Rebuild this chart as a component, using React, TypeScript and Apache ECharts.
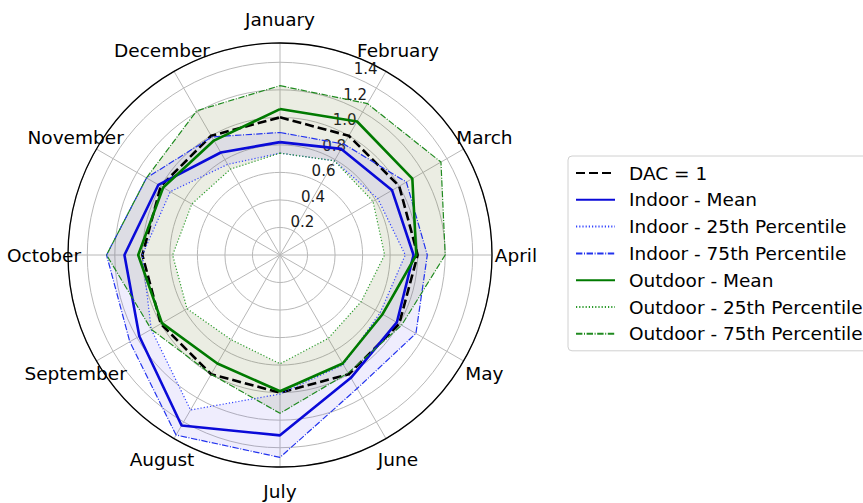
import { useEffect, useRef } from 'react';
import * as echarts from 'echarts';

// Months run clockwise from the top of the polar plot.
const months = [
  'January', 'February', 'March', 'April', 'May', 'June',
  'July', 'August', 'September', 'October', 'November', 'December',
];
const radialTickLabels = ['0.2', '0.4', '0.6', '0.8', '1.0', '1.2', '1.4'];

const dacLevel = [1, 1, 1, 1, 1, 1, 1, 1, 1, 1, 1, 1];
const indoorMean = [0.82, 0.89, 0.94, 0.97, 0.98, 1.03, 1.31, 1.43, 1.18, 1.13, 1.02, 0.86];
const indoorP25 = [0.74, 0.79, 0.82, 0.91, 0.84, 0.92, 1.01, 1.30, 1.08, 1.00, 0.92, 0.76];
const indoorP75 = [0.89, 0.93, 1.06, 1.07, 1.14, 1.12, 1.47, 1.51, 1.26, 1.26, 1.12, 0.99];
const outdoorMean = [1.06, 1.12, 1.11, 0.99, 0.86, 0.91, 0.99, 0.91, 0.99, 1.03, 0.98, 0.96];
const outdoorP25 = [0.74, 0.79, 0.78, 0.76, 0.68, 0.70, 0.79, 0.71, 0.78, 0.78, 0.74, 0.72];
const outdoorP75 = [1.23, 1.27, 1.35, 1.20, 1.02, 0.99, 1.15, 1.00, 1.08, 1.26, 1.12, 1.21];

const FONT = 'DejaVu Sans';
const CENTER = [280, 255];
const RADIUS = 212;
const R_MAX = 1.54;
// Month names sit centred on a ring 24px outside the outer circle.
const MONTH_LABEL_R = (R_MAX * (RADIUS + 24)) / RADIUS;

// [radius, monthIndex] pairs, repeating January at index 12 to close the loop.
const loop = (vals: number[]) =>
  vals.map((v, i) => [v, i]).concat([[vals[0], vals.length]]);

const bandSeries = (name: string, lower: number[], upper: number[], fill: string) => ({
  type: 'custom',
  name,
  coordinateSystem: 'polar',
  polarIndex: 0,
  silent: true,
  z: 1,
  data: [[0, 0]],
  renderItem: (_params: any, api: any) => {
    const outer = loop(upper).map((p) => api.coord(p));
    const inner = loop(lower).map((p) => api.coord(p)).reverse();
    return {
      type: 'polygon',
      shape: { points: outer.concat(inner) },
      style: { fill, stroke: 'none' },
    };
  },
});

const lineSeries = (name: string, vals: number[], color: string, width: number, type: any) => ({
  type: 'line',
  name,
  coordinateSystem: 'polar',
  polarIndex: 0,
  data: loop(vals),
  symbol: 'none',
  showSymbol: false,
  silent: true,
  color,
  lineStyle: { color, width, type },
  z: 3,
});

const DOTTED = [1.2, 2];
const DASH_DOT = [6.4, 1.6, 1, 1.6];

export default function App() {
  const ref = useRef<HTMLDivElement>(null);

  useEffect(() => {
    if (!ref.current) return;
    const chart = echarts.init(ref.current, undefined, { renderer: 'svg' });
    const legendNames = [
      'DAC = 1',
      'Indoor - Mean',
      'Indoor - 25th Percentile',
      'Indoor - 75th Percentile',
      'Outdoor - Mean',
      'Outdoor - 25th Percentile',
      'Outdoor - 75th Percentile',
    ];
    chart.setOption({
      animation: false,
      backgroundColor: '#ffffff',
      polar: [
        { center: CENTER, radius: RADIUS },
        { center: CENTER, radius: RADIUS },
      ],
      angleAxis: [
        {
          polarIndex: 0,
          type: 'value',
          min: 0,
          max: 12,
          interval: 1,
          startAngle: 90,
          clockwise: true,
          axisLine: { show: true, lineStyle: { color: '#000000', width: 1.3 } },
          axisTick: { show: false },
          axisLabel: { show: false },
          splitLine: { show: true, lineStyle: { color: '#b8b8b8', width: 1 } },
        },
        {
          // Second polar only carries the radial tick labels along 22.5° from the top.
          polarIndex: 1,
          type: 'value',
          min: 0,
          max: 360,
          startAngle: 67.5,
          clockwise: true,
          show: false,
        },
      ],
      radiusAxis: [
        {
          polarIndex: 0,
          type: 'value',
          min: 0,
          max: R_MAX,
          interval: 0.2,
          axisLine: { show: false },
          axisTick: { show: false },
          axisLabel: { show: false },
          splitLine: { show: true, lineStyle: { color: '#b8b8b8', width: 1 } },
        },
        {
          polarIndex: 1,
          type: 'value',
          min: 0,
          max: R_MAX,
          interval: 0.2,
          axisLine: { show: false },
          axisTick: { show: false },
          splitLine: { show: false },
          axisLabel: {
            margin: 0,
            align: 'left',
            verticalAlign: 'bottom',
            fontSize: 15,
            fontFamily: FONT,
            color: '#1a1a1a',
            formatter: (v: number) => {
              const s = v.toFixed(1);
              return radialTickLabels.includes(s) ? s : '';
            },
          },
        },
      ],
      legend: {
        data: legendNames,
        orient: 'vertical',
        left: 568,
        top: 156,
        itemWidth: 39,
        itemHeight: 14,
        itemGap: 6.8,
        padding: [7, 40, 7, 7],
        borderColor: '#d0d0d0',
        borderWidth: 1,
        borderRadius: 4,
        backgroundColor: 'rgba(255,255,255,0.9)',
        itemStyle: { opacity: 0 },
        textStyle: {
          fontSize: 18.5,
          fontFamily: FONT,
          color: '#000000',
          lineHeight: 20,
          padding: [0, 0, 0, 9],
        },
      },
      series: [
        bandSeries('Outdoor IQR', outdoorP25, outdoorP75, 'rgba(110,130,60,0.14)'),
        bandSeries('Indoor IQR', indoorP25, indoorP75, 'rgba(110,90,240,0.11)'),
        lineSeries('DAC = 1', dacLevel, '#000000', 2.6, [9, 4]),
        lineSeries('Indoor - Mean', indoorMean, '#0a0ad8', 2.6, 'solid'),
        lineSeries('Indoor - 25th Percentile', indoorP25, '#3344ff', 1.2, DOTTED),
        lineSeries('Indoor - 75th Percentile', indoorP75, '#2233ee', 1.2, DASH_DOT),
        lineSeries('Outdoor - Mean', outdoorMean, '#007a00', 2.6, 'solid'),
        lineSeries('Outdoor - 25th Percentile', outdoorP25, '#2a9a2a', 1.2, DOTTED),
        lineSeries('Outdoor - 75th Percentile', outdoorP75, '#1f8a1f', 1.2, DASH_DOT),
        {
          // Month names, centred on their spokes just outside the outer circle.
          type: 'scatter',
          name: 'months',
          coordinateSystem: 'polar',
          polarIndex: 0,
          silent: true,
          clip: false,
          symbolSize: 1,
          itemStyle: { color: 'rgba(0,0,0,0)' },
          data: months.map((_, i) => [MONTH_LABEL_R, i]),
          label: {
            show: true,
            position: 'inside',
            fontSize: 18.5,
            fontFamily: FONT,
            color: '#000000',
            opacity: 1,
            textBorderWidth: 0,
            formatter: (p: any) => months[p.dataIndex],
          },
          z: 4,
        },
      ],
    });
    return () => chart.dispose();
  }, []);

  return (
    <div
      ref={ref}
      style={{ position: 'fixed', left: 0, top: 0, width: 863, height: 503, background: '#ffffff' }}
    />
  );
}
